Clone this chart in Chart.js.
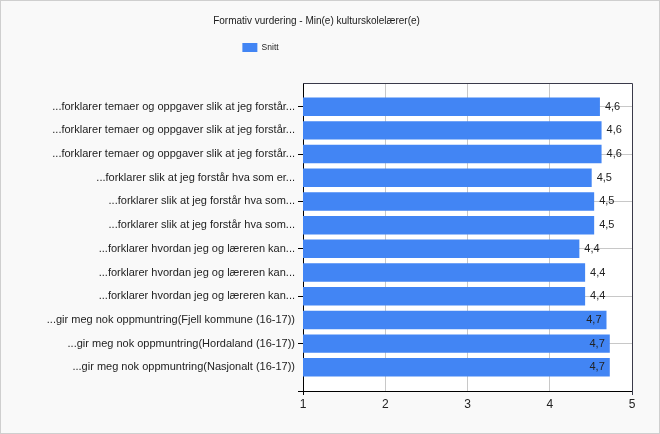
<!DOCTYPE html>
<html>
<head>
<meta charset="utf-8">
<script src="https://cdn.jsdelivr.net/npm/chart.js@4/dist/chart.umd.min.js"></script>
<style>
  html, body { margin: 0; padding: 0; background: #fff; }
  #wrap {
    width: 660px; height: 434px; box-sizing: border-box;
    border: 1px solid #cfcfcf; background: #f9f9f9;
  }
</style>
</head>
<body>
<div id="wrap"><canvas id="chart" width="658" height="432"></canvas></div>
<script>
const categories = [
    '...forklarer temaer og oppgaver slik at jeg forstår...',
    '...forklarer temaer og oppgaver slik at jeg forstår...',
    '...forklarer temaer og oppgaver slik at jeg forstår...',
    '...forklarer slik at jeg forstår hva som er...',
    '...forklarer slik at jeg forstår hva som...',
    '...forklarer slik at jeg forstår hva som...',
    '...forklarer hvordan jeg og læreren kan...',
    '...forklarer hvordan jeg og læreren kan...',
    '...forklarer hvordan jeg og læreren kan...',
    '...gir meg nok oppmuntring(Fjell kommune (16-17))',
    '...gir meg nok oppmuntring(Hordaland (16-17))',
    '...gir meg nok oppmuntring(Nasjonalt (16-17))'
];
const snitt = [4.61, 4.63, 4.63, 4.51, 4.54, 4.54, 4.36, 4.43, 4.43, 4.69, 4.73, 4.73];
const xTicks = [1, 2, 3, 4, 5];

const font = 'Liberation Sans, Arial, sans-serif';

// bars sit at rows 1..12, with one empty row of space above and below
const points = snitt.map((v, i) => ({ x: v, y: i + 1 }));

const frame = {
    id: 'frame',
    beforeDatasetsDraw(chart) {
        const a = chart.chartArea;
        const c = chart.ctx;
        c.save();
        c.globalCompositeOperation = 'destination-over';
        c.fillStyle = '#ffffff';
        c.fillRect(a.left, a.top, a.width, a.height);
        c.restore();
    },
    afterDraw(chart) {
        const a = chart.chartArea;
        const c = chart.ctx;
        c.save();
        c.strokeStyle = '#3a3a4a';
        c.lineWidth = 1;
        c.beginPath();
        c.moveTo(a.left, a.top + 0.5);
        c.lineTo(a.right + 0.5, a.top + 0.5);
        c.lineTo(a.right + 0.5, a.bottom + 4);
        c.stroke();
        c.restore();
    },
    afterLayout(chart) {
        // legend sits left of centre in the original
        chart.legend.left -= 56;
        chart.legend.right -= 56;
    }
};

const valueLabels = {
    id: 'valueLabels',
    afterDatasetsDraw(chart) {
        const c = chart.ctx;
        const meta = chart.getDatasetMeta(0);
        const right = chart.chartArea.right;
        c.save();
        c.font = '11px ' + font;
        c.fillStyle = '#222';
        c.textBaseline = 'middle';
        meta.data.forEach((bar, i) => {
            const txt = snitt[i].toFixed(1).replace('.', ',');
            const w = c.measureText(txt).width;
            if (bar.x + 5 + w > right - 10) {
                c.textAlign = 'right';
                c.fillText(txt, bar.x - 5, bar.y);
            } else {
                c.textAlign = 'left';
                c.fillText(txt, bar.x + 5, bar.y);
            }
        });
        c.restore();
    }
};

new Chart(document.getElementById('chart'), {
    type: 'bar',
    data: {
        datasets: [{
            label: 'Snitt',
            data: points,
            backgroundColor: '#4285f4',
            borderWidth: 0,
            barPercentage: 0.78,
            categoryPercentage: 1
        }]
    },
    plugins: [frame, valueLabels],
    options: {
        indexAxis: 'y',
        animation: false,
        responsive: false,
        layout: { padding: { left: 0, right: 27, bottom: 17, top: 0 } },
        plugins: {
            title: {
                display: true,
                text: 'Formativ vurdering - Min(e) kulturskolelærer(e)',
                color: '#1a1a1a',
                font: { family: font, size: 10, weight: 'normal' },
                padding: { top: 14, bottom: 6 }
            },
            legend: {
                display: true,
                labels: {
                    boxWidth: 15,
                    boxHeight: 9,
                    color: '#222',
                    font: { family: font, size: 8.5 }
                }
            },
            tooltip: { enabled: false }
        },
        scales: {
            x: {
                type: 'linear',
                min: xTicks[0],
                max: xTicks[xTicks.length - 1],
                afterBuildTicks: (scale) => { scale.ticks = xTicks.map(v => ({ value: v })); },
                ticks: {
                    color: '#222',
                    font: { family: font, size: 12 },
                    padding: 2
                },
                grid: {
                    color: (ctx) => (ctx.tick && ctx.tick.value > 1 && ctx.tick.value < 5) ? '#c8c8c8' : 'rgba(0,0,0,0)',
                    tickColor: (ctx) => (ctx.tick && (ctx.tick.value === 1 || ctx.tick.value === 5)) ? '#000' : 'rgba(0,0,0,0)',
                    tickLength: 4
                },
                border: { display: true, color: '#000', width: 1 },
                afterFit: (scale) => { scale.height = 25; }
            },
            // empty spacer between legend and plot frame
            gap: {
                type: 'linear',
                axis: 'x',
                position: 'top',
                ticks: { display: false },
                grid: { display: false },
                border: { display: false },
                afterFit: (scale) => { scale.height = 21; }
            },
            y: {
                type: 'linear',
                min: 0,
                max: categories.length + 1,
                reverse: true,
                offset: false,
                ticks: {
                    stepSize: 1,
                    autoSkip: false,
                    color: '#222',
                    font: { family: font, size: 11 },
                    padding: 3,
                    callback: (v) => categories[v - 1] || ''
                },
                grid: {
                    offset: false,
                    color: (ctx) => (ctx.tick && ctx.tick.value % 2 === 1) ? '#c8c8c8' : 'rgba(0,0,0,0)',
                    tickColor: (ctx) => (ctx.tick && ctx.tick.value % 2 === 1) ? '#000' : 'rgba(0,0,0,0)',
                    tickLength: 5
                },
                border: { display: true, color: '#000', width: 1 },
                afterFit: (scale) => { scale.width = 302; }
            }
        }
    }
});
</script>
</body>
</html>
